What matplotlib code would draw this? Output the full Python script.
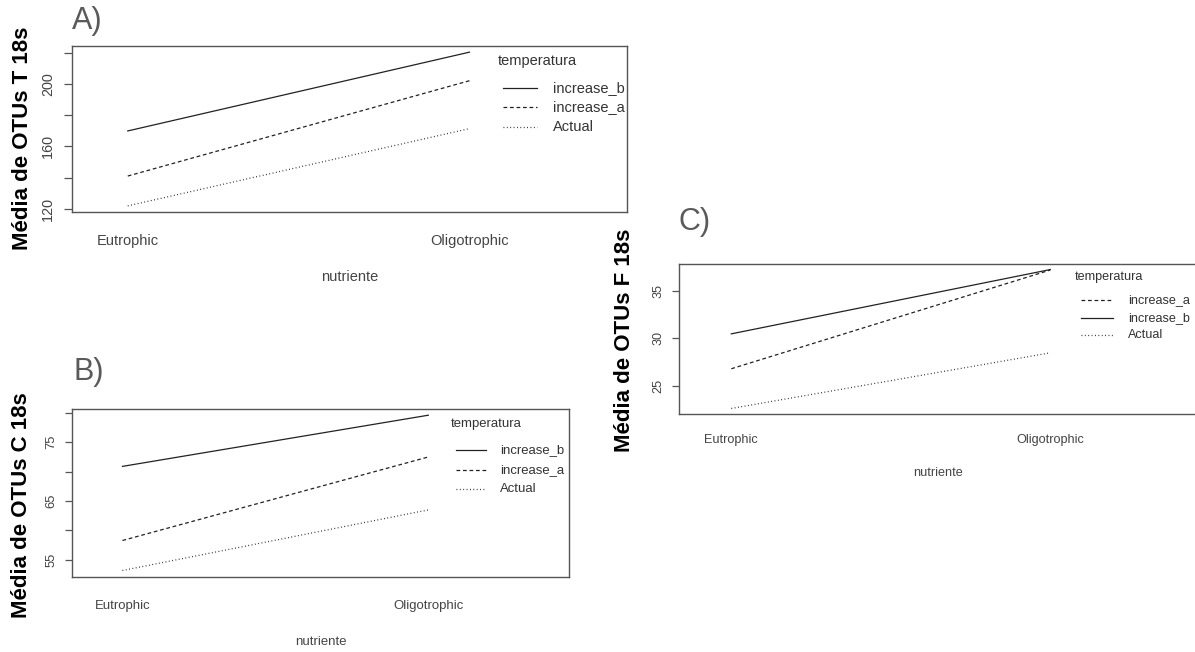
import matplotlib
matplotlib.use("Agg")
import matplotlib.pyplot as plt
import numpy as np

plt.rcParams['font.family'] = ['Liberation Sans', 'DejaVu Sans']

W, H = 1195, 652
DPI = 100

# nutrient levels on the x axis
nutriente = ["Eutrophic", "Oligotrophic"]

# mean OTUs, 18s T
t_increase_b = [169.9, 220.4]
t_increase_a = [141.0, 202.1]
t_actual = [121.9, 171.4]

# mean OTUs, 18s C
c_increase_b = [70.9, 79.6]
c_increase_a = [58.3, 72.5]
c_actual = [53.2, 63.5]

# mean OTUs, 18s F
f_increase_a = [26.8, 37.15]
f_increase_b = [30.46, 37.2]
f_actual = [22.64, 28.47]

t_ticks = [120, 140, 160, 180, 200, 220]
t_ticklabels = ["120", "", "160", "", "200", ""]
c_ticks = [55, 60, 65, 70, 75, 80]
c_ticklabels = ["55", "", "65", "", "75", ""]
f_ticks = [25, 30, 35]
f_ticklabels = ["25", "30", "35"]

LINE = '#222222'
GREY = '#444444'
styles = {
    "increase_b": dict(linestyle='-'),
    "increase_a": dict(linestyle=(0, (3.0, 2.2))),
    "Actual": dict(linestyle=(0, (0.7, 2.0))),
}

fig = plt.figure(figsize=(W / DPI, H / DPI), dpi=DPI)


def add_px_axes(left, top, right, bottom):
    return fig.add_axes([left / W, 1 - bottom / H, (right - left) / W, (bottom - top) / H])


def interaction_panel(box, series, ticks, ticklabels, letter, ylabel, leg,
                      fs=1.0, xpad=15.5, xlab_off=64.7):
    left, top, right, bottom = box
    aw, ah = right - left, bottom - top
    ax = add_px_axes(left, top, right, bottom)
    x = np.arange(1, len(nutriente) + 1)

    for name, vals in series:
        ax.plot(x, vals, color=LINE, lw=0.9, **styles[name])

    allv = np.concatenate([v for _, v in series])
    lo, hi = allv.min(), allv.max()
    pad = 0.04 * (hi - lo)
    ax.set_ylim(lo - pad, hi + pad)
    ax.set_xlim(0.836, 2.46)

    ax.set_yticks(ticks)
    ax.set_yticklabels(ticklabels, rotation=90, va='center', fontsize=10.4 * fs, color=GREY)
    ax.tick_params(axis='y', length=5.8 * fs, width=0.9, color='#555555', pad=6 * fs)
    ax.set_xticks(x)
    ax.set_xticklabels(nutriente, fontsize=10.5 * fs, color=GREY)
    ax.tick_params(axis='x', length=0, pad=xpad)
    for s in ax.spines.values():
        s.set_color('#555555')
        s.set_linewidth(1.0)

    # axis titles and panel letter
    ax.text(0.5, -xlab_off / ah, "nutriente", transform=ax.transAxes,
            ha='center', va='center', fontsize=10.5 * fs, color=GREY)
    yx, yy = ylabel[1], ylabel[2]
    ax.text((yx - left) / aw, 1 - (yy - top) / ah, ylabel[0], transform=ax.transAxes,
            rotation=90, ha='center', va='center', fontsize=16, fontweight='bold',
            color='black', clip_on=False)
    ax.text((letter[1] - left) / aw, 1 - (letter[2] - top) / ah, letter[0],
            transform=ax.transAxes, ha='left', va='center', fontsize=22,
            color='#5a5a5a')

    # legend drawn inside the plot region, clipped by the box like R does
    lx, ly, rows, l0, l1, tx = leg
    fx = lambda p: (p - left) / aw
    fy = lambda p: 1 - (p - top) / ah
    ax.text(fx(lx), fy(ly), "temperatura", transform=ax.transAxes, ha='left',
            va='center', fontsize=10.5 * fs, color='#333333', clip_on=True)
    for (name, _), ry in zip(series, rows):
        ax.plot([fx(lx + l0), fx(lx + l1)], [fy(ry), fy(ry)], transform=ax.transAxes,
                color=LINE, lw=0.9, **styles[name])
        ax.text(fx(lx + tx), fy(ry), name, transform=ax.transAxes, ha='left',
                va='center', fontsize=10.5 * fs, color='#333333', clip_on=True)
    return ax


interaction_panel(
    (71.7, 46, 626.7, 212),
    [("increase_b", t_increase_b), ("increase_a", t_increase_a), ("Actual", t_actual)],
    t_ticks, t_ticklabels,
    ("A)", 72, 21), ("Média de OTUs T 18s", 22, 138),
    (497.7, 61, [88.3, 107.3, 126.7], 5, 39, 55),
)

interaction_panel(
    (72.3, 409, 569, 576.7),
    [("increase_b", c_increase_b), ("increase_a", c_increase_a), ("Actual", c_actual)],
    c_ticks, c_ticklabels,
    ("B)", 73, 372), ("Média de OTUs C 18s", 22, 505),
    (450.7, 424.3, [450, 470, 489], 5.3, 35.3, 49.3),
    fs=0.9, xpad=16.6, xlab_off=65,
)

interaction_panel(
    (679, 264, 1197, 414),
    [("increase_a", f_increase_a), ("increase_b", f_increase_b), ("Actual", f_actual)],
    f_ticks, f_ticklabels,
    ("C)", 679, 222), ("Média de OTUs F 18s", 624, 340),
    (1075, 276.7, [300, 317.7, 335], 6, 37.7, 52.7),
    fs=0.87, xpad=14.6, xlab_off=58.7,
)

fig.savefig("out.png", dpi=DPI)
